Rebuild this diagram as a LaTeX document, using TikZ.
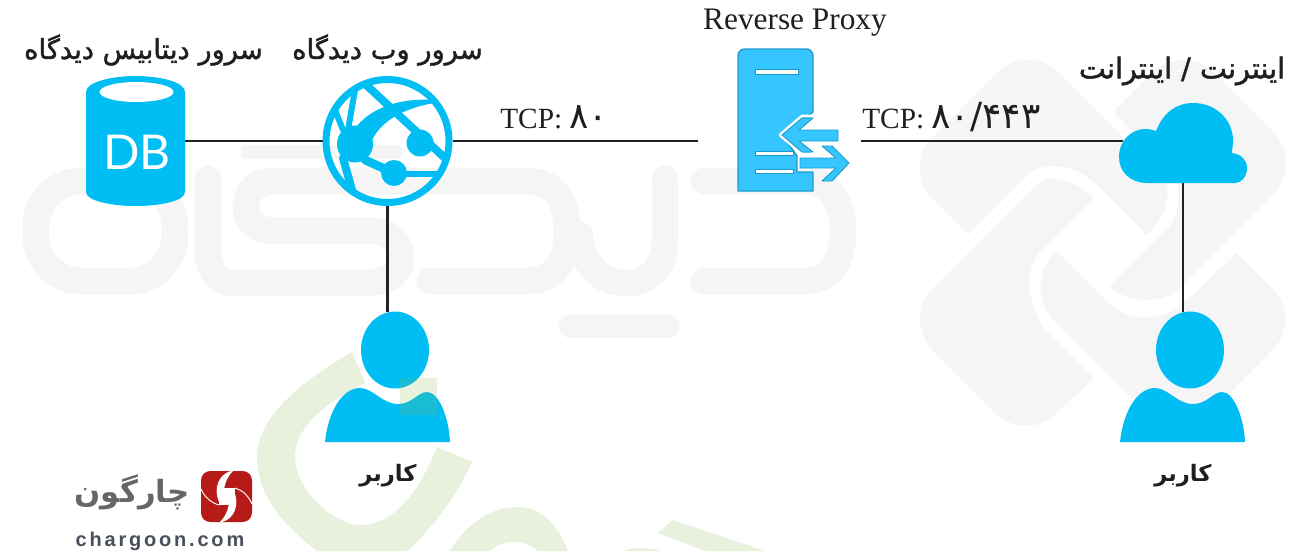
\documentclass[tikz,border=0pt]{standalone}
\usepackage{fontspec}
\TeXXeTstate=1
\newfontfamily\fareg[Script=Arabic]{DejaVu Sans}
\newfontfamily\famed[Script=Arabic,FakeBold=1.5]{DejaVu Sans}
\newfontfamily\fabold[Script=Arabic]{DejaVu Sans Bold}
\newfontfamily\tms{Liberation Serif}
\newfontfamily\dbf{Lato}
\newfontfamily\logof[LetterSpace=14]{Liberation Sans Bold}
\definecolor{wgray}{HTML}{F5F5F5}
\definecolor{wgreen}{HTML}{E8F1DC}
\definecolor{iconblue}{HTML}{00BEF4}
\definecolor{proxyblue}{HTML}{35C6FF}
\definecolor{proxyedge}{HTML}{1C9CCB}
\definecolor{linecol}{HTML}{222222}
\definecolor{logored}{HTML}{B71B18}
\definecolor{logourlcol}{HTML}{4A4F5C}
\tikzset{
  icon/.style={fill=iconblue,draw=none},
  anchorbox/.style={draw=none,fill=none,inner sep=0pt,outer sep=0pt},
  link/.style={draw=linecol,line width=2pt},
  wmstroke/.style={draw=wgray,line width=20pt,line cap=round,line join=round},
  label/.style={inner sep=0pt,text=black!88},
  pbody/.style={fill=proxyblue,draw=proxyedge,line width=1.1pt,line join=round},
  pwhite/.style={fill=white,draw=proxyedge,line width=0.7pt},
  globeline/.style={draw=iconblue,line cap=round}
}
\newcommand{\personshape}[1]{%
  \fill[icon] (#1+395,350) ellipse [x radius=34,y radius=38.5];
  \fill[icon] (#1+325,442) .. controls (#1+328,412) and (#1+342,388) .. (#1+360,388)
    .. controls (#1+373,388) and (#1+382,404) .. (#1+398,404)
    .. controls (#1+412,404) and (#1+418,392) .. (#1+427,392)
    .. controls (#1+439,392) and (#1+449,418) .. (#1+450,442) -- cycle;
}
\begin{document}
\begin{tikzpicture}[x=0.75pt,y=-0.75pt]
\useasboundingbox (0,0) rectangle (1301,551);
\fill[white] (0,0) rectangle (1301,551);

% --- grey lettering watermark
\draw[wmstroke,rounded corners=34pt] (36,181) rectangle (175,281);
\draw[wmstroke] (430,281) -- (525,281) .. controls (555,281) and (567,262) .. (567,231)
  .. controls (567,200) and (555,181) .. (525,181) -- (275,181)
  .. controls (255,181) and (246,193) .. (246,206) .. controls (246,220) and (255,231) .. (275,231)
  -- (372,231) .. controls (392,231) and (401,245) .. (401,258) .. controls (401,272) and (388,283) .. (365,283)
  -- (235,283) .. controls (215,283) and (208,268) .. (208,250) -- (208,179);
\draw[wmstroke] (665,179) -- (665,240) .. controls (665,265) and (650,283) .. (628,283)
  .. controls (600,283) and (582,265) .. (580,235);
\draw[wmstroke] (704,181) -- (805,181) .. controls (832,181) and (843,205) .. (843,231)
  .. controls (843,258) and (832,281) .. (805,281) -- (704,281);
\draw[wgray,line width=10pt,line cap=round] (247,152) -- (396,152);
\draw[wgray,line width=17pt,line cap=round] (570,326.5) -- (668,326.5);

% --- grey interlocked diamond watermark
\begin{scope}[shift={(900,40)},x=0.25pt,y=-0.25pt]
\fill[wgray] (205,583) -- (98,476) .. controls (47,425) and (47,343) .. (98,292) -- (292,98)
  .. controls (343,47) and (425,47) .. (476,98)
  -- (780,402) .. controls (815,437) and (815,510) .. (740,585)
  -- (580,425) .. controls (535,380) and (430,358) .. (385,403) -- cycle;
\fill[wgray] (640,215) -- (757,98) .. controls (808,47) and (890,47) .. (941,98) -- (1120,277)
  .. controls (1171,328) and (1171,410) .. (1120,461)
  -- (830,751) .. controls (790,791) and (680,790) .. (630,740) -- (790,580)
  .. controls (850,525) and (850,425) .. (800,375) -- cycle;
\fill[wgray] (580,475) .. controls (530,425) and (455,395) .. (410,434) -- (98,746)
  .. controls (47,797) and (47,879) .. (98,930)
  -- (287,1119) .. controls (338,1170) and (420,1170) .. (471,1119) -- (580,1015) -- (430,865)
  .. controls (375,770) and (375,680) .. (425,630) -- cycle;
\fill[wgray] (470,632) -- (630,792) .. controls (680,842) and (790,850) .. (850,790) -- (1010,640)
  -- (1117,747) .. controls (1168,798) and (1168,880) .. (1117,931) -- (926,1123)
  .. controls (875,1174) and (793,1174) .. (742,1123)
  -- (470,851) .. controls (405,786) and (405,697) .. (470,632) -- cycle;
\end{scope}

% --- green watermark
\fill[wgreen] (352,352) .. controls (295,385) and (257,420) .. (257,457)
  .. controls (257,500) and (290,530) .. (317,551) -- (407,551)
  .. controls (430,530) and (455,500) .. (472,462) -- (437,447)
  .. controls (420,490) and (395,525) .. (360,525)
  .. controls (335,525) and (295,490) .. (295,457)
  .. controls (295,425) and (330,400) .. (365,383) -- cycle;
\fill[wgreen] (450,551) .. controls (465,525) and (490,507) .. (517,507)
  .. controls (545,507) and (560,530) .. (568,551) -- (537,551)
  .. controls (532,545) and (522,542) .. (513,542) .. controls (503,542) and (495,546) .. (490,551) -- cycle;
\fill[wgreen] (673,520) -- (765,551) -- (705,551) -- (658,533) -- cycle;
\fill[wgreen] (623,551) .. controls (630,547) and (650,547) .. (660,551) -- cycle;

% --- invisible anchors for the connectors
\node[anchorbox,minimum width=74.25pt,minimum height=97.5pt] (db) at (135.5,141) {};
\node[anchorbox,circle,minimum size=97.5pt] (globe) at (387.5,141) {};
\node[anchorbox,minimum width=122.25pt,minimum height=106.5pt] (proxy) at (779.5,141) {};
\node[anchorbox,minimum width=90pt,minimum height=63pt] (cloud) at (1183,141) {};
\node[anchorbox,minimum width=93pt,minimum height=97.5pt] (usera) at (387.5,377) {};
\node[anchorbox,minimum width=93pt,minimum height=97.5pt] (userb) at (1183,377) {};

% --- connectors
\draw[link] (db.east) -- (globe.west);
\draw[link] (globe.east) -- (proxy.west);
\draw[link] (proxy.east) -- (cloud.west);
\draw[link] (globe.south) -- (usera.north);
\draw[link] (cloud.south) -- (userb.north);

% --- database
\fill[icon] (86,92) .. controls (86,82) and (112,76) .. (135.5,76) .. controls (160,76) and (185,82) .. (185,92)
  -- (185,192) .. controls (185,201) and (160,206) .. (135.5,206) .. controls (112,206) and (86,201) .. (86,192) -- cycle;
\fill[white] (136.5,92) ellipse [x radius=37,y radius=10];
\node[anchorbox,text=white,font=\dbf\fontsize{36}{36}\selectfont] (dbtext) at (137,152) {DB};

% --- globe
\fill[icon,even odd rule] (387.5,141) circle [radius=65] (387.5,141) circle [radius=58];
\begin{scope}
\clip (387.5,141) circle [radius=62];
\draw[globeline,line width=6pt] (363,82) -- (447,160);
\draw[globeline,line width=4.5pt] (355,90) -- (348,130);
\draw[globeline,line width=4.5pt] (335,110) -- (343,130);
\draw[globeline,line width=6pt] (343,158) -- (352,190);
\draw[globeline,line width=6.5pt] (365,160) -- (394,173);
\draw[globeline,line width=5pt] (394,174) -- (445,174);
\fill[icon] (350,138) .. controls (360,112) and (395,97) .. (434,100) -- (434,103)
  .. controls (405,108) and (382,120) .. (372,140) -- cycle;
\end{scope}
\fill[icon] (355,144) ellipse [x radius=18,y radius=18.5];
\fill[icon] (420,143) circle [radius=13.5];
\fill[icon] (394,173) circle [radius=13];

% --- reverse proxy
\path[pbody] (745,49) -- (806,49) .. controls (810,49) and (813,52) .. (813,56) -- (813,112)
  -- (782,135) -- (797,156) -- (797,172) -- (813,172) -- (813,191) -- (738,191) -- (738,56)
  .. controls (738,52) and (741,49) .. (745,49) -- cycle;
\path[pwhite] (755,69.5) rectangle (798,74.5);
\path[pwhite] (755,151) rectangle (793,155.5);
\path[pwhite] (755,169) rectangle (793,173.5);
\path[pbody,draw=white,line width=2.2pt] (780,135) -- (802,116) -- (816,116) -- (801,130) -- (838,130) -- (838,141)
  -- (801,141) -- (815,154) -- (802,154) -- cycle;
\path[pbody,line width=0.7pt] (782,135) -- (802,118) -- (813,118) -- (799,130) -- (838,130) -- (838,141)
  -- (799,141) -- (813,152) -- (802,152) -- cycle;
\path[pbody,line width=0.7pt] (849,163) -- (832,181) -- (822,181) -- (836,168) -- (800,168) -- (800,158)
  -- (836,158) -- (822,146) -- (832,146) -- cycle;

% --- cloud
\fill[icon] (1148,183) .. controls (1130,183) and (1119,172) .. (1119,157)
  .. controls (1119,140) and (1132,129) .. (1145,129) .. controls (1150,129) and (1153,130) .. (1156,131)
  .. controls (1163,113) and (1176,103) .. (1193,103) .. controls (1218,103) and (1233,122) .. (1233,140)
  .. controls (1233,146) and (1232,150) .. (1232,153) .. controls (1241,154) and (1247,160) .. (1247,168)
  .. controls (1247,177) and (1241,183) .. (1235,183) -- cycle;

% --- users
\personshape{0}
\personshape{795}
\fill[fill={rgb,255:red,137;green,181;blue,71},fill opacity=0.19] (400,378) rectangle (437,415);

% --- labels
\node[label,font=\famed\fontsize{20.5}{22}\selectfont] (dblabel) at (143.5,50) {\beginR سرور دیتابیس دیدگاه\endR};
\node[label,font=\famed\fontsize{20.5}{22}\selectfont] (weblabel) at (387.5,50) {\beginR سرور وب دیدگاه\endR};
\node[label,font=\tms\fontsize{23.5}{26}\selectfont] (proxylabel) at (795,23) {Reverse Proxy};
\node[label,font=\famed\fontsize{21.5}{23}\selectfont] (netlabel) at (1182,71) {\beginR اینترنت / اینترانت\endR};
\node[label,anchor=west,font=\tms\fontsize{22}{24}\selectfont] (tcpa) at (500,117) {TCP: {\fareg\fontsize{27}{24}\selectfont ۸۰}};
\node[label,anchor=west,font=\tms\fontsize{22}{24}\selectfont] (tcpb) at (862,117) {TCP: {\fareg\fontsize{27}{24}\selectfont ۸۰/۴۴۳}};
\node[label,font=\fabold\fontsize{17}{20}\selectfont] (usera text) at (388,476) {\beginR کاربر\endR};
\node[label,font=\fabold\fontsize{17}{20}\selectfont] (userb text) at (1183,476) {\beginR کاربر\endR};

% --- chargoon logo
\fill[logored,rounded corners=7pt] (201,471) rectangle (252,522);
\fill[white] (219,488) rectangle (235,505);
\fill[white] (231,471) .. controls (219,474) and (213,488) .. (219,502) -- (224,490) .. controls (225,482) and (228,476) .. (233,471) -- cycle;
\fill[white] (222,522) .. controls (234,519) and (240,505) .. (234,491) -- (229,503) .. controls (228,511) and (225,517) .. (220,522) -- cycle;
\draw[white,line width=0.7pt] (235,488) .. controls (242,490) and (248,495) .. (252,504);
\draw[white,line width=0.7pt] (219,505) .. controls (212,503) and (205,498) .. (201,489);
\node[inner sep=0pt,text=black!60,font=\fabold\fontsize{23}{26}\selectfont] (logotext) at (132,492) {\beginR چارگون\endR};
\node[inner sep=0pt,text=logourlcol,font=\logof\fontsize{15}{18}\selectfont] (logourl) at (160,541) {chargoon.com};
\end{tikzpicture}
\end{document}
